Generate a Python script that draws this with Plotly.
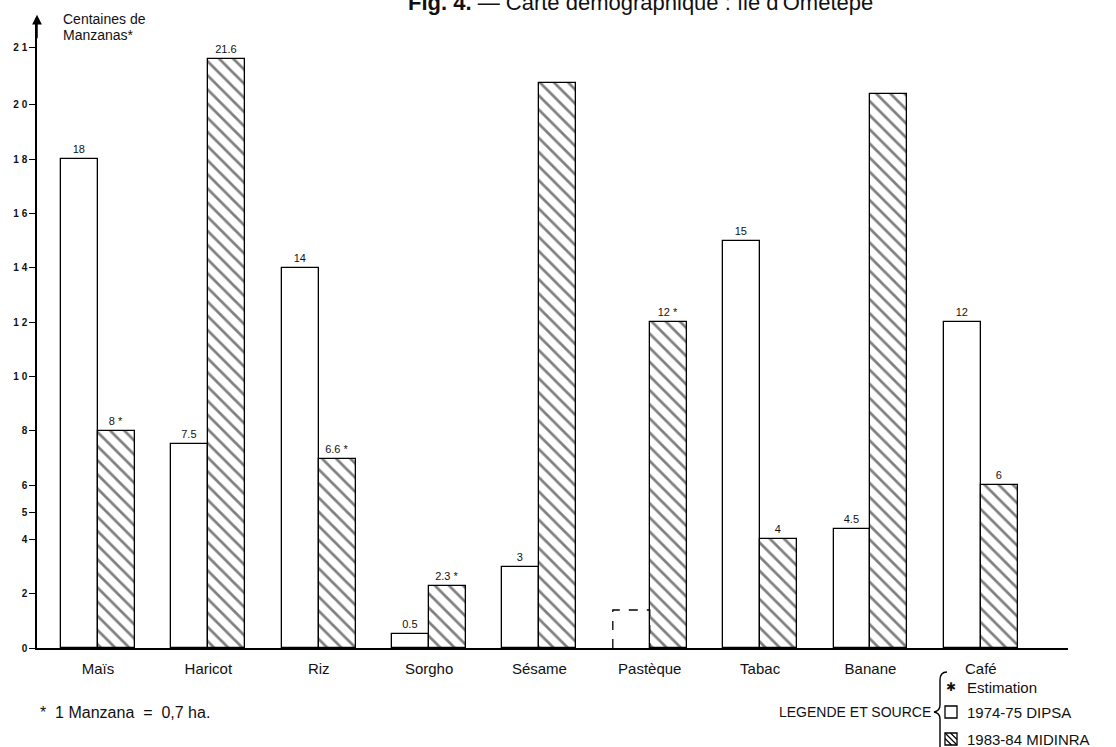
import plotly.graph_objects as go

# ---------------- data ----------------
categories = ["Maïs", "Haricot", "Riz", "Sorgho", "Sésame", "Pastèque", "Tabac", "Banane", "Café"]
dipsa_1974 = [18, 7.5, 14, 0.5, 3, 1.4, 15, 4.4, 12]          # 1974-75 DIPSA (white bars)
midinra_1983 = [8, 21.7, 6.95, 2.3, 20.8, 12, 4, 20.4, 6]      # 1983-84 MIDINRA (hatched bars)
dipsa_labels = ["18", "7.5", "14", "0.5", "3", "", "15", "4.5", "12"]
midinra_labels = ["8 *", "21.6", "6.6 *", "2.3 *", "", "12 *", "4", "", "6"]
y_tick_values = [0, 2, 4, 5, 6, 8, 10, 12, 14, 16, 18, 20, 22.1]
y_tick_labels = ["0", "2", "4", "5", "6", "8", "1 0", "1 2", "1 4", "1 6", "1 8", "2 0", "2 1"]
dashed_category = "Pastèque"   # 1974-75 bar drawn with dashed outline

# ---------------- geometry / style ----------------
FONT = "Liberation Sans, Arial, sans-serif"
W, H = 1116, 747
ML, MR, MT, MB = 37, 48, 18, 99
PW, PH = W - ML - MR, H - MT - MB


def px(x):   # pixel x -> paper
    return (x - ML) / PW


def py(y):   # pixel y -> paper
    return (H - MB - y) / PH


xs = list(range(len(categories)))
BW = 0.335
X_RANGE = [-0.553, 8.79]
Y_RANGE = [0, 23.2]

white_line_w = [0 if c == dashed_category else 1.3 for c in categories]

fig = go.Figure()

fig.add_trace(go.Bar(
    x=xs, y=dipsa_1974, width=BW, offset=-BW,
    marker=dict(color="white", line=dict(color="black", width=white_line_w)),
    text=dipsa_labels, textposition="outside", cliponaxis=False,
    textfont=dict(family=FONT, size=11, color="#111"),
    name="1974-75 DIPSA", showlegend=False,
))

fig.add_trace(go.Bar(
    x=xs, y=midinra_1983, width=BW, offset=0,
    marker=dict(color="white", line=dict(color="black", width=1.3),
                pattern=dict(shape="\\", fgcolor="black", bgcolor="white", size=10, solidity=0.27)),
    text=midinra_labels, textposition="outside", cliponaxis=False,
    textfont=dict(family=FONT, size=11, color="#111"),
    name="1983-84 MIDINRA", showlegend=False,
))

# dashed outline for the Pastèque 1974-75 bar
i = categories.index(dashed_category)
v = dipsa_1974[i]
fig.add_trace(go.Scatter(
    x=[xs[i] - BW, xs[i] - BW, xs[i], xs[i]], y=[0, v, v, 0],
    mode="lines", line=dict(color="black", width=1.3, dash="dash"),
    showlegend=False, hoverinfo="skip",
))

fig.update_layout(
    width=W, height=H,
    margin=dict(l=ML, r=MR, t=MT, b=MB),
    paper_bgcolor="white", plot_bgcolor="white",
    barmode="overlay", bargap=0,
    font=dict(family=FONT, color="#111"),
    showlegend=False,
)

fig.update_xaxes(
    range=X_RANGE, tickvals=xs, ticktext=categories,
    showline=True, linecolor="black", linewidth=1.5,
    showgrid=False, zeroline=False, ticks="",
    tickfont=dict(family=FONT, size=15, color="#111"),
    ticklabelstandoff=6,
)
fig.update_yaxes(
    range=Y_RANGE, tickvals=y_tick_values, ticktext=y_tick_labels,
    showline=True, linecolor="black", linewidth=1.5,
    showgrid=False, zeroline=False,
    ticks="outside", ticklen=6, tickwidth=1.2, tickcolor="black",
    tickfont=dict(family=FONT, size=10, color="#111", weight="bold"),
)

ann = []
# arrow on top of y axis
ann.append(dict(xref="paper", yref="paper", x=0, y=1.005, ax=0, ay=25, text="",
                showarrow=True, arrowhead=2, arrowsize=1.3, arrowwidth=1.5, arrowcolor="black"))
# title (partly cut off at the top, as in the scan)
ann.append(dict(xref="paper", yref="paper", x=px(640), y=py(2), xanchor="center", yanchor="middle",
                text="<b>Fig. 4.</b> — Carte démographique : île d'Ometepe",
                showarrow=False, font=dict(family=FONT, size=22, color="#111")))
# y axis title
ann.append(dict(xref="paper", yref="paper", x=px(61), y=py(19), xanchor="left", yanchor="middle",
                text="Centaines de", showarrow=False, font=dict(family=FONT, size=14, color="#111")))
ann.append(dict(xref="paper", yref="paper", x=px(61), y=py(35), xanchor="left", yanchor="middle",
                text="Manzanas*", showarrow=False, font=dict(family=FONT, size=14, color="#111")))
# footnote
ann.append(dict(xref="paper", yref="paper", x=px(38), y=py(712), xanchor="left", yanchor="middle",
                text="*  1 Manzana  =  0,7 ha.", showarrow=False,
                font=dict(family=FONT, size=16, color="#111")))
# legend
ann.append(dict(xref="paper", yref="paper", x=px(777), y=py(712), xanchor="left", yanchor="middle",
                text="LEGENDE ET SOURCE", showarrow=False,
                font=dict(family=FONT, size=14, color="#111")))
ann.append(dict(xref="paper", yref="paper", x=px(951), y=py(687), xanchor="center", yanchor="middle",
                text="✱", showarrow=False,
                font=dict(family="DejaVu Sans, sans-serif", size=12, color="#111")))
for label, yy in [("Estimation", 687), ("1974-75 DIPSA", 712), ("1983-84 MIDINRA", 739)]:
    ann.append(dict(xref="paper", yref="paper", x=px(965), y=py(yy), xanchor="left", yanchor="middle",
                    text=label, showarrow=False,
                    font=dict(family=FONT, size=15, color="#111")))
fig.update_layout(annotations=ann)

# legend icons and brace (decorations in paper coordinates)
shapes = []
shapes.append(dict(type="rect", xref="paper", yref="paper",
                   x0=px(945), x1=px(957), y0=py(706), y1=py(718),
                   line=dict(color="black", width=1.3), fillcolor="white"))
shapes.append(dict(type="rect", xref="paper", yref="paper",
                   x0=px(945), x1=px(957), y0=py(733), y1=py(745),
                   line=dict(color="black", width=1.3), fillcolor="white"))
for (a, b, c, d) in [(945, 733, 957, 745), (945, 738.5, 951.5, 745), (950.5, 733, 957, 739.5)]:
    shapes.append(dict(type="line", xref="paper", yref="paper",
                       x0=px(a), y0=py(b), x1=px(c), y1=py(d),
                       line=dict(color="black", width=1.2)))


def P(x, y):
    return f"{px(x):.5f},{py(y):.5f}"


brace = (f"M {P(947, 672)} Q {P(940, 672)} {P(940, 680)} L {P(940, 705)} "
         f"Q {P(940, 711)} {P(934, 712)} Q {P(940, 713)} {P(940, 719)} L {P(940, 752)}")
shapes.append(dict(type="path", xref="paper", yref="paper", path=brace,
                   line=dict(color="black", width=1.4)))
fig.update_layout(shapes=shapes)

fig.write_html("out.html", config={"displayModeBar": False},
               post_script="document.body.style.margin='0px';")
